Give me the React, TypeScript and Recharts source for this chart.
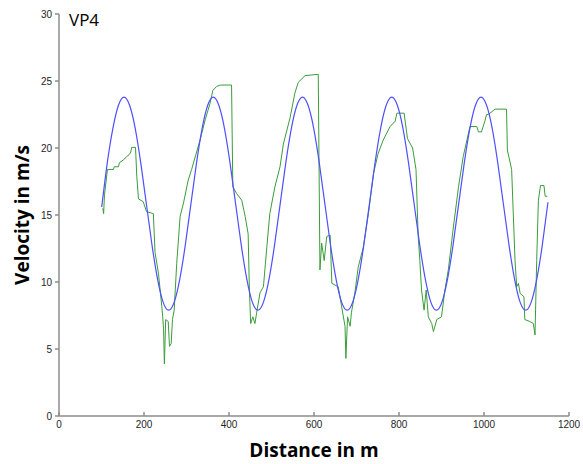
import { LineChart, Line, XAxis, YAxis } from 'recharts';

// measured velocity (green, step-like)
const measuredDistance = [
  103, 105, 107, 114, 128, 130, 140, 142, 151, 159, 165, 169, 171, 180, 183, 187, 198, 206, 222, 226,
  234, 242, 244, 246, 248, 251, 257, 260, 264, 267, 271, 277, 285, 293, 304, 312, 322, 332, 344, 355,
  362, 371, 380, 406, 409, 418, 430, 438, 445, 448, 451, 456, 461, 465, 473, 481, 489, 496, 508, 520,
  528, 544, 555, 563, 579, 610, 614, 618, 624, 630, 638, 642, 657, 665, 673, 675, 679, 685, 688, 696,
  704, 716, 728, 740, 751, 763, 779, 791, 795, 812, 820, 832, 840, 845, 849, 853, 859, 864, 869, 877,
  881, 889, 900, 908, 916, 928, 940, 951, 967, 983, 987, 994, 1002, 1006, 1010, 1026, 1053, 1055, 1065, 1073,
  1077, 1081, 1085, 1094, 1096, 1108, 1116, 1120, 1124, 1128, 1133, 1141, 1144, 1149,
];
const measuredVelocity = [
  15.5, 15.1, 16.5, 18.4, 18.4, 18.6, 18.6, 18.9, 19.1, 19.35, 19.5, 19.7, 20.05, 20.05, 17.9, 16.2, 16.0, 15.25, 15.1, 12.2,
  10.65, 8.15, 7.4, 6.5, 3.9, 7.2, 7.05, 5.2, 5.4, 7.2, 7.9, 11.4, 14.9, 15.9, 17.6, 18.4, 19.5, 20.6, 22.1, 23.3,
  24.3, 24.6, 24.7, 24.7, 17.1, 16.6, 16.1, 14.9, 13.6, 9.4, 6.9, 7.4, 6.9, 7.7, 9.2, 9.65, 12.6, 15.1, 17.1, 18.6,
  20.3, 22.3, 24.1, 24.9, 25.4, 25.5, 10.9, 12.9, 11.6, 13.4, 13.5, 9.9, 9.65, 8.15, 6.7, 4.3, 7.4, 6.7, 7.7, 9.15,
  11.1, 12.6, 15.1, 18.1, 19.6, 20.6, 21.6, 22.0, 22.6, 22.6, 20.7, 20.0, 18.4, 13.5, 11.6, 9.4, 7.9, 9.4, 7.4, 6.9,
  6.3, 7.2, 7.4, 9.4, 10.9, 14.1, 17.1, 19.35, 21.6, 21.6, 21.2, 21.2, 22.0, 22.5, 22.5, 22.9, 22.9, 19.85, 18.4, 11.6,
  9.65, 9.9, 9.15, 8.9, 7.2, 7.05, 6.9, 6.05, 11.6, 16.1, 17.2, 17.2, 16.4, 16.4,
];

// fitted velocity (blue, smooth)
const fitDistance = [
  100.5, 113.6, 126.8, 139.9, 153, 166.1, 179.3, 192.4, 205.5, 218.6, 231.8, 244.9, 258, 271.1, 284.3, 297.4,
  310.5, 323.6, 336.8, 349.9, 363, 376.1, 389.3, 402.4, 415.5, 428.6, 441.8, 454.9, 468, 481.1, 494.3, 507.4,
  520.5, 533.6, 546.8, 559.9, 573, 586.1, 599.3, 612.4, 625.5, 638.6, 651.8, 664.9, 678, 691.1, 704.3, 717.4,
  730.5, 743.6, 756.8, 769.9, 783, 796.1, 809.3, 822.4, 835.5, 848.6, 861.8, 874.9, 888, 901.1, 914.3, 927.4,
  940.5, 953.6, 966.8, 979.9, 993, 1006.1, 1019.3, 1032.4, 1045.5, 1058.6, 1071.8, 1084.9, 1098, 1111.1, 1124.3, 1137.4,
  1150.5,
];
const fitVelocity = [
  15.6, 18.89, 21.47, 23.19, 23.8, 23.19, 21.47, 18.89, 15.85, 12.81, 10.23, 8.5, 7.9, 8.5, 10.23, 12.81,
  15.85, 18.89, 21.47, 23.19, 23.8, 23.19, 21.47, 18.89, 15.85, 12.81, 10.23, 8.5, 7.9, 8.5, 10.23, 12.81,
  15.85, 18.89, 21.47, 23.19, 23.8, 23.19, 21.47, 18.89, 15.85, 12.81, 10.23, 8.5, 7.9, 8.5, 10.23, 12.81,
  15.85, 18.89, 21.47, 23.19, 23.8, 23.19, 21.47, 18.89, 15.85, 12.81, 10.23, 8.5, 7.9, 8.5, 10.23, 12.81,
  15.85, 18.89, 21.47, 23.19, 23.8, 23.19, 21.47, 18.89, 15.85, 12.81, 10.23, 8.5, 7.9, 8.5, 10.23, 12.81,
  15.95,
];

const xTicks = [0, 200, 400, 600, 800, 1000, 1200];
const yTicks = [0, 5, 10, 15, 20, 25, 30];

const measuredData = measuredDistance.map((x, i) => ({ x, v: measuredVelocity[i] }));
const fitData = fitDistance.map((x, i) => ({ x, v: fitVelocity[i] }));

const axisColor = '#8c8c8c';
const tickStyle = { fontSize: 10, fill: '#262626', fontFamily: 'Liberation Sans, Arial, sans-serif' };
const titleFont = '"Open Sans", sans-serif';

const YTitle = ({ viewBox }: any) => {
  const cx = viewBox.x + 22;
  const cy = viewBox.y + viewBox.height / 2;
  return (
    <text
      x={cx}
      y={cy}
      transform={`rotate(-90, ${cx}, ${cy})`}
      textAnchor="middle"
      dominantBaseline="central"
      fontFamily={titleFont}
      fontWeight={700}
      fontSize={19}
      fill="#000"
    >
      Velocity in m/s
    </text>
  );
};

const XTitle = ({ viewBox }: any) => (
  <text
    x={viewBox.x + viewBox.width / 2}
    y={viewBox.y + 34}
    textAnchor="middle"
    dominantBaseline="central"
    fontFamily={titleFont}
    fontWeight={700}
    fontSize={19}
    fill="#000"
  >
    Distance in m
  </text>
);

export default function App() {
  return (
    <div style={{ position: 'absolute', left: 0, top: 0, width: 583, height: 464, background: '#fff' }}>
      <LineChart width={583} height={464} margin={{ top: 14, right: 14, left: 0, bottom: 0 }}>
        <XAxis
          type="number"
          dataKey="x"
          domain={[0, 1200]}
          ticks={xTicks}
          allowDataOverflow
          height={48}
          stroke={axisColor}
          strokeWidth={1.5}
          tick={tickStyle}
          tickSize={-4}
          tickMargin={9}
          label={<XTitle />}
        />
        <YAxis
          type="number"
          domain={[0, 30]}
          ticks={yTicks}
          allowDataOverflow
          width={59}
          stroke={axisColor}
          strokeWidth={1.5}
          tick={tickStyle}
          tickSize={4}
          tickMargin={3}
          label={<YTitle />}
        />
        <Line
          data={measuredData}
          dataKey="v"
          type="linear"
          stroke="#3a9d3a"
          strokeWidth={1}
          dot={false}
          isAnimationActive={false}
        />
        <Line
          data={fitData}
          dataKey="v"
          type="natural"
          stroke="#4f4fff"
          strokeWidth={1.2}
          dot={false}
          isAnimationActive={false}
        />
      </LineChart>
      <div
        style={{
          position: 'absolute',
          left: 69,
          top: 8,
          fontFamily: titleFont,
          fontSize: 17,
          color: '#000',
        }}
      >
        VP4
      </div>
    </div>
  );
}
